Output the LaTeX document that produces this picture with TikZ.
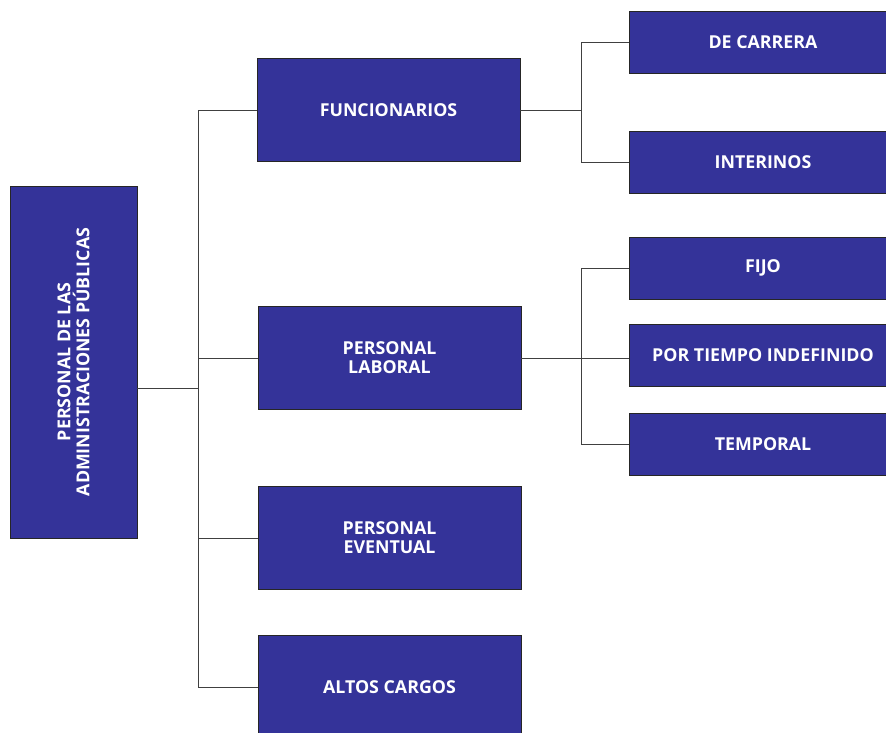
\documentclass[tikz,border=0pt]{standalone}
\usepackage{fontspec}
\setmainfont{Open Sans}
\definecolor{azul}{HTML}{343399}

\begin{document}
\begin{tikzpicture}[x=1pt,y=-1pt,
  caja/.style={draw=black!85, line width=0.8pt, fill=azul, text=white,
    font=\bfseries\fontsize{17.8}{19}\selectfont, align=center, inner sep=0pt,
    minimum width=263, minimum height=103},
  hoja/.style={caja, minimum width=268, minimum height=62},
  enlace/.style={draw=black!75, line width=0.9pt}]
\useasboundingbox (0,0) rectangle (886,732);

% raiz: rotated, so its south anchor sits on the right edge
\node [caja, rotate=90, minimum width=352, minimum height=127] (raiz) at (73.5,362)
  {PERSONAL DE LAS\\ADMINISTRACIONES PÚBLICAS};

\node [caja] (func) at (388.5,110) {FUNCIONARIOS};
\node [caja] (laboral) at (389.5,358) {PERSONAL\\LABORAL};
\node [caja] (eventual) at (389.5,538) {PERSONAL\\EVENTUAL};
\node [caja] (altos) at (389.5,687) {ALTOS CARGOS};

\node [hoja] (carrera) at (763,42) {DE CARRERA};
\node [hoja] (interinos) at (763,162) {INTERINOS};
\node [hoja] (fijo) at (763,268) {FIJO};
\node [hoja] (indef) at (763,355) {POR TIEMPO INDEFINIDO};
\node [hoja] (temporal) at (763,444) {TEMPORAL};

\coordinate (ta) at (198,0);
\coordinate (tb) at (581,0);

% primer nivel
\draw [enlace] ([yshift=-26pt]raiz.south) -- ([yshift=-26pt]raiz.south -| ta);
\draw [enlace] (func.west -| ta) -- (altos.west -| ta);
\foreach \n in {func,laboral,eventual,altos}
  \draw [enlace] (\n.west) -- (\n.west -| ta);

% funcionarios
\draw [enlace] (func.east) -- (func.east -| tb);
\draw [enlace] (carrera.west -| tb) -- (interinos.west -| tb);
\foreach \n in {carrera,interinos}
  \draw [enlace] (\n.west) -- (\n.west -| tb);

% personal laboral
\draw [enlace] (laboral.east) -- (laboral.east -| indef.west);
\draw [enlace] (fijo.west -| tb) -- (temporal.west -| tb);
\foreach \n in {fijo,temporal}
  \draw [enlace] (\n.west) -- (\n.west -| tb);
\end{tikzpicture}
\end{document}
